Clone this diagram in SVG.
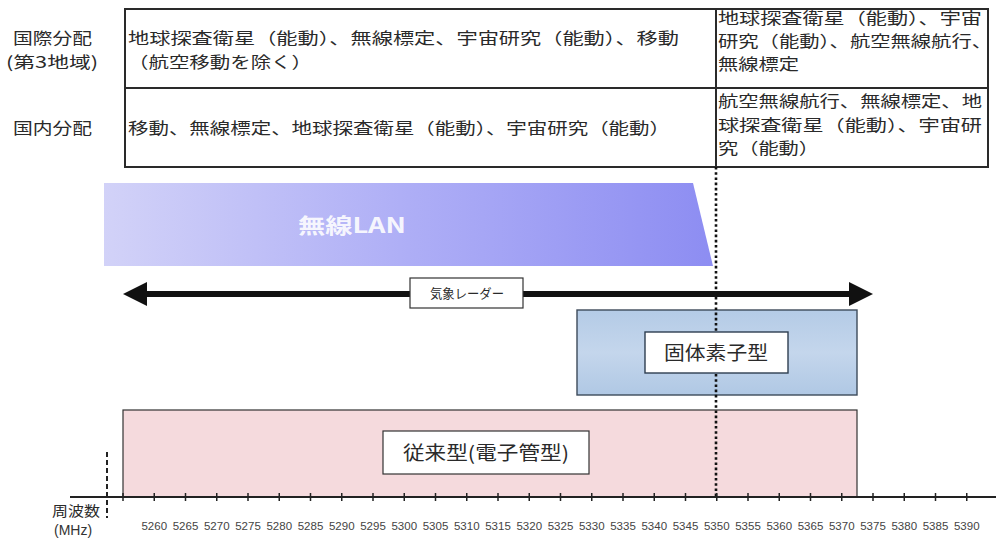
<svg xmlns="http://www.w3.org/2000/svg" width="996" height="542" viewBox="0 0 996 542">
<defs>
<linearGradient id="lanGrad" x1="0" y1="0" x2="1" y2="0">
<stop offset="0" stop-color="#d2d2f8"/>
<stop offset="0.5" stop-color="#aeaef6"/>
<stop offset="1" stop-color="#8d8df2"/>
</linearGradient>
<linearGradient id="blueGrad" x1="0" y1="0" x2="0" y2="1">
<stop offset="0" stop-color="#b4cbe6"/>
<stop offset="0.5" stop-color="#c4d6ec"/>
<stop offset="1" stop-color="#b0c8e4"/>
</linearGradient>
<style>
.jp{font-family:"Noto Sans CJK JP","Noto Sans",sans-serif;fill:#2a2a2a;}
.tbl{font-size:16px;}
.lbl{font-size:16px;}
.line{fill:none;stroke:#2a2a2a;}
.tick{font-family:"Liberation Sans",Arial,sans-serif;font-size:11.5px;fill:#444;text-anchor:middle;}
.box{fill:#fff;stroke:#333;stroke-width:1.2;}
.dots{stroke:#111;stroke-width:2.6;stroke-dasharray:2.6 2.6;}
</style>
</defs>
<rect width="996" height="542" fill="#fff"/>

<g id="table">
<rect x="125" y="9" width="863" height="158" class="line" stroke-width="2"/>
<line x1="125" y1="88" x2="988" y2="88" class="line" stroke-width="2"/>
<line x1="716" y1="9" x2="716" y2="167" class="line" stroke-width="2"/>
<text class="jp lbl" x="13" y="44" textLength="79" lengthAdjust="spacingAndGlyphs">国際分配</text>
<text class="jp lbl" x="6" y="68" textLength="92" lengthAdjust="spacingAndGlyphs">(第3地域)</text>
<text class="jp lbl" x="13" y="134" textLength="79" lengthAdjust="spacingAndGlyphs">国内分配</text>
<text class="jp tbl" x="128" y="44" textLength="551" lengthAdjust="spacingAndGlyphs">地球探査衛星（能動）、無線標定、宇宙研究（能動）、移動</text>
<text class="jp tbl" x="128" y="68" textLength="184" lengthAdjust="spacingAndGlyphs">（航空移動を除く）</text>
<text class="jp tbl" x="128" y="134" textLength="542" lengthAdjust="spacingAndGlyphs">移動、無線標定、地球探査衛星（能動）、宇宙研究（能動）</text>
<text class="jp tbl" x="718" y="24" textLength="264" lengthAdjust="spacingAndGlyphs">地球探査衛星（能動）、宇宙</text>
<text class="jp tbl" x="718" y="47" textLength="274" lengthAdjust="spacingAndGlyphs">研究（能動）、航空無線航行、</text>
<text class="jp tbl" x="718" y="70" textLength="81" lengthAdjust="spacingAndGlyphs">無線標定</text>
<text class="jp tbl" x="718" y="107" textLength="264" lengthAdjust="spacingAndGlyphs">航空無線航行、無線標定、地</text>
<text class="jp tbl" x="718" y="131" textLength="264" lengthAdjust="spacingAndGlyphs">球探査衛星（能動）、宇宙研</text>
<text class="jp tbl" x="718" y="154" textLength="101" lengthAdjust="spacingAndGlyphs">究（能動）</text>
</g>

<g id="wireless-lan">
<polygon points="104,183 693,183 713,266 104,266" fill="url(#lanGrad)"/>
<text x="298" y="233" font-family="Noto Sans CJK JP,sans-serif" font-size="21" font-weight="bold" fill="#fff" fill-opacity="0.9" textLength="108" lengthAdjust="spacingAndGlyphs">無線LAN</text>
</g>

<g id="conventional">
<rect x="123" y="410" width="734" height="87" fill="#f5dadd" stroke="#333" stroke-width="1.2"/>
<rect x="383" y="431" width="206" height="43" class="box"/>
<text class="jp" x="486" y="460" font-size="19" text-anchor="middle" textLength="166" lengthAdjust="spacingAndGlyphs">従来型(電子管型)</text>
</g>

<g id="solid-state">
<rect x="577" y="310" width="280" height="85" fill="url(#blueGrad)" stroke="#3d4a5a" stroke-width="1.4"/>
<rect x="645" y="332" width="143" height="41" fill="#fff" stroke="#2e3e50" stroke-width="1.4"/>
<text class="jp" x="716" y="360" font-size="19" text-anchor="middle" textLength="104" lengthAdjust="spacingAndGlyphs">固体素子型</text>
</g>

<g id="connectors">
<line x1="716" y1="167" x2="716" y2="331" class="dots"/>
<line x1="716" y1="374" x2="716" y2="497" class="dots"/>
<line x1="140" y1="294" x2="856" y2="294" stroke="#111" stroke-width="6"/>
<polygon points="123,294 147,282 147,306" fill="#111"/>
<polygon points="873,294 849,282 849,306" fill="#111"/>
</g>

<g id="weather-radar">
<rect x="410" y="278" width="113" height="30" class="box"/>
<text class="jp" x="467" y="298" font-size="13" text-anchor="middle" textLength="74" lengthAdjust="spacingAndGlyphs">気象レーダー</text>
</g>

<g id="axis">
<line x1="70" y1="497" x2="996" y2="497" stroke="#222" stroke-width="2"/>
<line x1="107" y1="452" x2="107" y2="518" stroke="#222" stroke-width="2" stroke-dasharray="5 3"/>
<g stroke="#222" stroke-width="1.5">
<line x1="123" y1="493" x2="123" y2="501"/><line x1="154.25" y1="493" x2="154.25" y2="501"/><line x1="185.5" y1="493" x2="185.5" y2="501"/><line x1="216.75" y1="493" x2="216.75" y2="501"/><line x1="248" y1="493" x2="248" y2="501"/><line x1="279.25" y1="493" x2="279.25" y2="501"/><line x1="310.5" y1="493" x2="310.5" y2="501"/><line x1="341.75" y1="493" x2="341.75" y2="501"/><line x1="373" y1="493" x2="373" y2="501"/><line x1="404.25" y1="493" x2="404.25" y2="501"/><line x1="435.5" y1="493" x2="435.5" y2="501"/><line x1="466.75" y1="493" x2="466.75" y2="501"/><line x1="498" y1="493" x2="498" y2="501"/><line x1="529.25" y1="493" x2="529.25" y2="501"/><line x1="560.5" y1="493" x2="560.5" y2="501"/><line x1="591.75" y1="493" x2="591.75" y2="501"/><line x1="623" y1="493" x2="623" y2="501"/><line x1="654.25" y1="493" x2="654.25" y2="501"/><line x1="685.5" y1="493" x2="685.5" y2="501"/><line x1="716.75" y1="493" x2="716.75" y2="501"/><line x1="748" y1="493" x2="748" y2="501"/><line x1="779.25" y1="493" x2="779.25" y2="501"/><line x1="810.5" y1="493" x2="810.5" y2="501"/><line x1="841.75" y1="493" x2="841.75" y2="501"/><line x1="873" y1="493" x2="873" y2="501"/><line x1="904.25" y1="493" x2="904.25" y2="501"/><line x1="935.5" y1="493" x2="935.5" y2="501"/><line x1="966.75" y1="493" x2="966.75" y2="501"/>
</g>
<text class="jp" x="52" y="516" font-size="14" fill="#333" textLength="48" lengthAdjust="spacingAndGlyphs">周波数</text>
<text x="54" y="535" font-family="Liberation Sans,Arial,sans-serif" font-size="14" fill="#333">(MHz)</text>
<text class="tick" x="154.25" y="530">5260</text><text class="tick" x="185.5" y="530">5265</text><text class="tick" x="216.75" y="530">5270</text><text class="tick" x="248" y="530">5275</text><text class="tick" x="279.25" y="530">5280</text><text class="tick" x="310.5" y="530">5285</text><text class="tick" x="341.75" y="530">5290</text><text class="tick" x="373" y="530">5295</text><text class="tick" x="404.25" y="530">5300</text><text class="tick" x="435.5" y="530">5305</text><text class="tick" x="466.75" y="530">5310</text><text class="tick" x="498" y="530">5315</text><text class="tick" x="529.25" y="530">5320</text><text class="tick" x="560.5" y="530">5325</text><text class="tick" x="591.75" y="530">5330</text><text class="tick" x="623" y="530">5335</text><text class="tick" x="654.25" y="530">5340</text><text class="tick" x="685.5" y="530">5345</text><text class="tick" x="716.75" y="530">5350</text><text class="tick" x="748" y="530">5355</text><text class="tick" x="779.25" y="530">5360</text><text class="tick" x="810.5" y="530">5365</text><text class="tick" x="841.75" y="530">5370</text><text class="tick" x="873" y="530">5375</text><text class="tick" x="904.25" y="530">5380</text><text class="tick" x="935.5" y="530">5385</text><text class="tick" x="966.75" y="530">5390</text>
</g>
</svg>
